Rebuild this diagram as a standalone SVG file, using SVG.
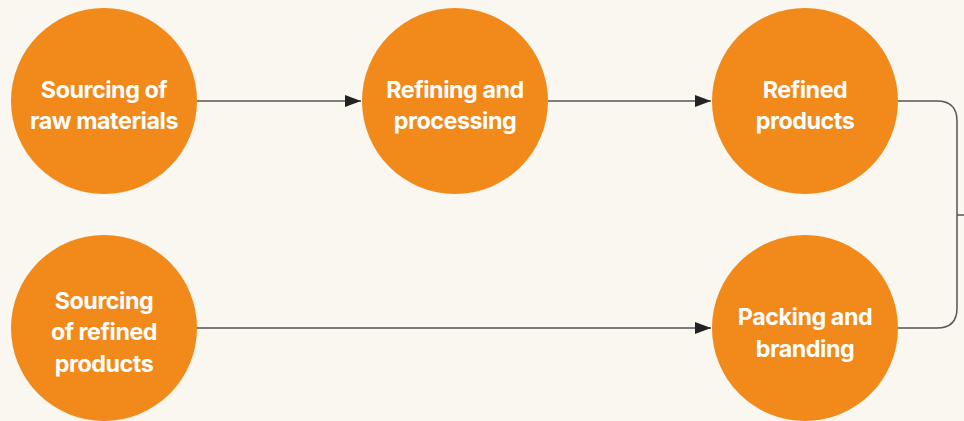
<svg xmlns="http://www.w3.org/2000/svg" width="964" height="421" viewBox="0 0 964 421">
  <defs>
    <marker id="arrow" markerWidth="16" markerHeight="12" refX="16" refY="6" orient="auto" markerUnits="userSpaceOnUse">
      <path d="M0,0 L16,6 L0,12 Z" fill="#222222"/>
    </marker>
    <style>
      .node { fill: #F1891B; }
      .label { fill: #ffffff; font-family: Inter, "Liberation Sans", sans-serif; font-weight: 700; font-size: 23.3px; text-anchor: middle; letter-spacing: -0.45px; }
      .link { fill: none; stroke: #555555; stroke-width: 1.5; }
    </style>
  </defs>
  <rect width="964" height="421" fill="#FAF7F1"/>

  <g id="connectors">
    <path class="link" d="M197,101 H361" marker-end="url(#arrow)"/>
    <path class="link" d="M548,101 H711" marker-end="url(#arrow)"/>
    <path class="link" d="M197,328 H711" marker-end="url(#arrow)"/>
    <path class="link" d="M898,101 H937 Q957,101 957,121 V308 Q957,328 937,328 H898"/>
    <path class="link" d="M957,215 H964"/>
  </g>

  <g id="sourcing-raw">
    <circle class="node" cx="104" cy="101" r="93"/>
    <text class="label" x="104" y="98">Sourcing of</text>
    <text class="label" x="104" y="129">raw materials</text>
  </g>

  <g id="refining">
    <circle class="node" cx="455" cy="101" r="93"/>
    <text class="label" x="455" y="98">Refining and</text>
    <text class="label" x="455" y="129">processing</text>
  </g>

  <g id="refined-products">
    <circle class="node" cx="805" cy="101" r="93"/>
    <text class="label" x="805" y="98">Refined</text>
    <text class="label" x="805" y="129">products</text>
  </g>

  <g id="sourcing-refined">
    <circle class="node" cx="104" cy="328" r="93"/>
    <text class="label" x="104" y="309">Sourcing</text>
    <text class="label" x="104" y="340">of refined</text>
    <text class="label" x="104" y="372">products</text>
  </g>

  <g id="packing">
    <circle class="node" cx="805" cy="328" r="93"/>
    <text class="label" x="805" y="325">Packing and</text>
    <text class="label" x="805" y="357">branding</text>
  </g>
</svg>
